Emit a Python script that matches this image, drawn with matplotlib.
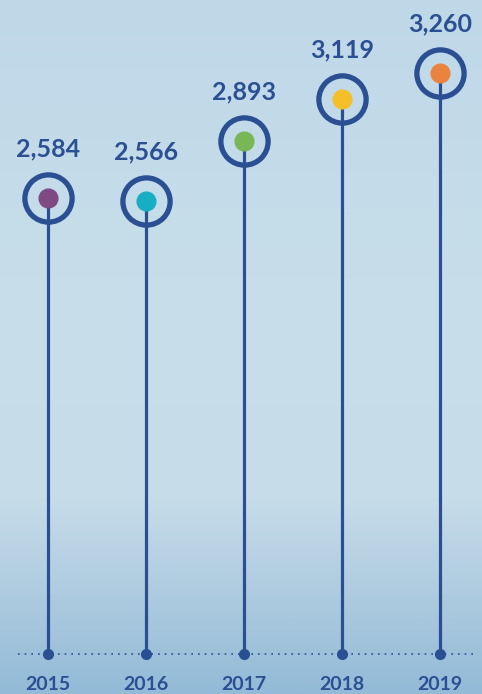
import matplotlib
matplotlib.use("Agg")
from matplotlib import pyplot as plt
from matplotlib.colors import LinearSegmentedColormap
import numpy as np

years = ["2015", "2016", "2017", "2018", "2019"]
values = [2584, 2566, 2893, 3119, 3260]
labels = ["2,584", "2,566", "2,893", "3,119", "3,260"]
dot_colors = ["#7f4a82", "#17aec3", "#77b755", "#f5bf2a", "#e9833f"]

navy = "#2b4f93"
base_value = 118

plt.rcParams["font.family"] = ["Lato", "DejaVu Sans"]

fig = plt.figure(figsize=(4.82, 6.94), dpi=100)

# sky-like background
bg = fig.add_axes([0, 0, 1, 1])
bg.axis("off")
sky = LinearSegmentedColormap.from_list(
    "sky", [(0.0, "#bfd8e8"), (0.45, "#c8deea"), (0.72, "#c6dce9"),
            (0.85, "#afcce0"), (1.0, "#93bad7")])
grad = np.linspace(0, 1, 256).reshape(-1, 1)
bg.imshow(grad, aspect="auto", cmap=sky, extent=[0, 1, 1, 0])
bg.set_xlim(0, 1)
bg.set_ylim(1, 0)

ax = fig.add_axes([0, 0, 1, 1])
ax.patch.set_alpha(0)
ax.axis("off")
ax.set_xlim(-0.49, 4.43)
ax.set_ylim(-99, 3655)

x = np.arange(len(years))

# dotted baseline
ax.plot([-0.31, 4.37], [base_value, base_value], color=navy, lw=1.2,
        ls=(0, (1, 3)), zorder=1)

for i in range(len(years)):
    ax.plot([x[i], x[i]], [base_value, values[i]], color=navy, lw=2.3,
            zorder=2, solid_capstyle="butt")
    ax.plot(x[i], base_value, "o", color=navy, ms=7, zorder=3)
    ax.plot(x[i], values[i], "o", ms=34, mfc="none", mec=navy, mew=3.8,
            zorder=4)
    ax.plot(x[i], values[i], "o", ms=13.5, color=dot_colors[i], zorder=5)
    ax.annotate(labels[i], (x[i], values[i]), xytext=(0, 27),
                textcoords="offset points", ha="center", va="bottom",
                fontsize=18, fontweight="bold", color=navy)
    ax.annotate(years[i], (x[i], base_value), xytext=(0, -16),
                textcoords="offset points", ha="center", va="top",
                fontsize=14, fontweight="bold", color=navy)

fig.savefig("out.png", dpi=100)
